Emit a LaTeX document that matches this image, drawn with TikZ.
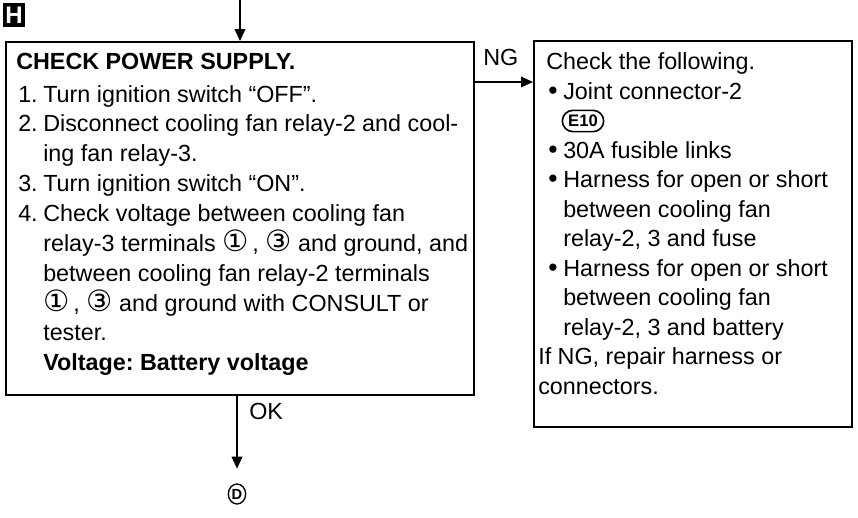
\documentclass[tikz,border=0pt]{standalone}
\usepackage{fontspec}
\setmainfont{Liberation Sans}
\newfontfamily\symfont{DejaVu Sans}
\usetikzlibrary{arrows.meta,shapes.geometric}
\newcommand{\cnum}[1]{{\symfont\fontsize{22}{22}\selectfont #1}}
\newcommand{\stepnum}[1]{\makebox[18.75pt][l]{#1}}
\newcommand{\bul}{\makebox[11.25pt][l]{\raisebox{-0.5pt}{\fontsize{20}{21}\selectfont •}}}
\begin{document}
\frenchspacing
\begin{tikzpicture}[x=0.75pt,y=-0.75pt,
  box/.style={draw, line width=1.4pt, inner sep=0pt, anchor=north west},
  txt/.style={anchor=base west, inner sep=0pt, font=\fontsize{17.5}{21}\selectfont},
  conn/.style={line width=1.1pt, -{Triangle[length=9pt,width=8pt]}}]
\useasboundingbox (0,0) rectangle (858,518);
% badge
\node[fill=black, text=white, font=\bfseries\fontsize{18}{18}\selectfont, minimum width=16.5pt, minimum height=17.5pt, inner sep=0pt] (hbox) at (14,15) {H};
% boxes
\node[box, minimum width=351pt, minimum height=264.75pt] (main) at (5,41) {};
\node[box, minimum width=238.5pt, minimum height=289.5pt] (right) at (533,40) {};
% main text
\node[txt] (m1) at (16,69) {\textbf{CHECK POWER SUPPLY.}};
\node[txt] (m2) at (18,102) {\stepnum{1.}Turn ignition switch “OFF”.};
\node[txt] (m3) at (18,131) {\stepnum{2.}Disconnect cooling fan relay-2 and cool-};
\node[txt] (m4) at (43,161) {ing fan relay-3.};
\node[txt] (m5) at (18,191) {\stepnum{3.}Turn ignition switch “ON”.};
\node[txt] (m6) at (18,221) {\stepnum{4.}Check voltage between cooling fan};
\node[txt] (m7) at (43,251) {relay-3 terminals \cnum{①}\,, \cnum{③}\ and ground, and};
\node[txt] (m8) at (43,281) {between cooling fan relay-2 terminals};
\node[txt] (m9) at (43,311) {\cnum{①}\,, \cnum{③}\ and ground with CONSULT or};
\node[txt] (m10) at (43,340) {tester.};
\node[txt] (m11) at (43,370) {\textbf{Voltage: Battery voltage}};
% right text
\node[txt] (r1) at (546,69) {Check the following.};
\node[txt] (r2) at (548,99) {\bul Joint connector-2};
\node[draw, line width=1.2pt, rounded corners=8pt, inner sep=0pt, minimum width=31pt, minimum height=16pt, font=\bfseries\fontsize{12.5}{12.5}\selectfont] (e10) at (583,121) {E10};
\node[txt] (r4) at (548,158) {\bul 30A fusible links};
\node[txt] (r5) at (548,187) {\bul Harness for open or short};
\node[txt] (r6) at (563,217) {between cooling fan};
\node[txt] (r7) at (563,246) {relay-2, 3 and fuse};
\node[txt] (r8) at (548,276) {\bul Harness for open or short};
\node[txt] (r9) at (563,305) {between cooling fan};
\node[txt] (r10) at (563,335) {relay-2, 3 and battery};
\node[txt] (r11) at (538,364) {If NG, repair harness or};
\node[txt] (r12) at (538,394) {connectors.};
% labels
\node[txt] (ng) at (483,65) {NG};
\node[txt] (ok) at (249,419) {OK};
% end marker
\node[draw, ellipse, line width=1pt, inner sep=0pt, minimum width=13pt, minimum height=15pt, font=\bfseries\fontsize{11}{11}\selectfont] (dnode) at (237,494) {D};
% connectors
\coordinate (topstart) at (240,0);
\coordinate (ngy) at (0,82);
\draw[conn] (topstart) -- (topstart |- main.north);
\draw[conn] (main.east |- ngy) -- (right.west |- ngy);
\draw[conn, shorten >=11pt] (dnode |- main.south) -- (dnode.north);
\end{tikzpicture}
\end{document}
